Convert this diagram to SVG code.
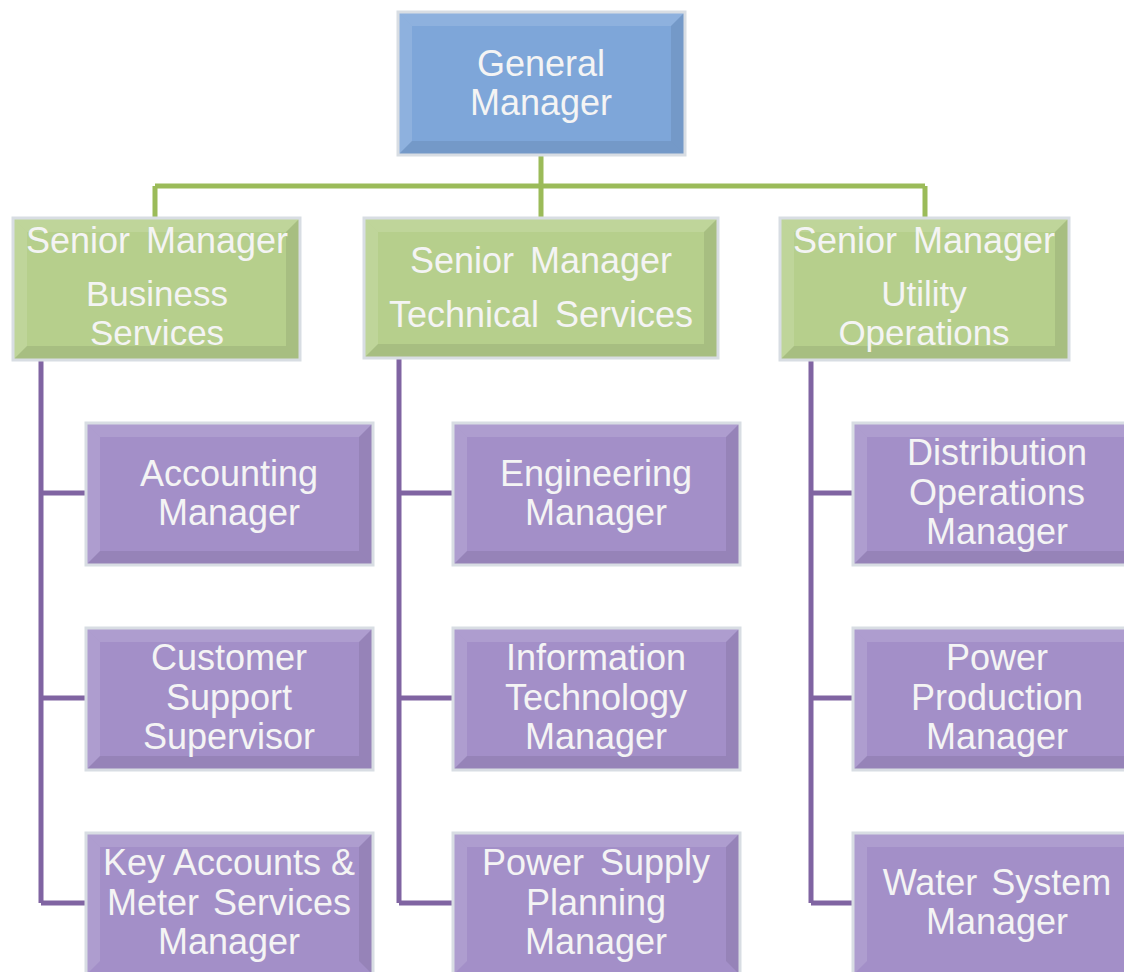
<svg xmlns="http://www.w3.org/2000/svg" width="1124" height="972" viewBox="0 0 1124 972">
<style>
.txt{font-family:"Liberation Sans",Arial,sans-serif;font-size:36px;fill:#F4F4F4;text-anchor:middle}
.tight{font-size:35px}
.blue{fill:#7EA6D9}
.green{fill:#B6CF8C}
.purple{fill:#A38FC8}
.frame{fill:none;stroke:#D8DDE3;stroke-width:3}
.hl{fill:#FFFFFF;opacity:0.13}
.sh{fill:#000000;opacity:0.08}
.gline{stroke:#9BBB59;stroke-width:5;fill:none}
.pline{stroke:#8064A2;stroke-width:5;fill:none}
</style>
<g id="connectors">
<path class="gline" d="M541 155 V218 M155 186 H925 M155 186 V218 M925 186 V218"/>
<path class="pline" d="M41 360 V903 M41 493 H86 M41 698 H86 M41 903 H86"/>
<path class="pline" d="M399 358 V903 M399 493 H453 M399 698 H453 M399 903 H453"/>
<path class="pline" d="M811 360 V903 M811 493 H853 M811 698 H853 M811 903 H853"/>
</g>

<g id="n-gm">
<rect class="blue" x="398" y="12" width="287" height="143"/>
<polygon class="hl" points="398,12 685,12 671,26 412,26"/>
<polygon class="hl" points="398,12 412,26 412,141 398,155"/>
<polygon class="sh" points="685,12 685,155 671,141 671,26"/>
<polygon class="sh" points="398,155 685,155 671,141 412,141"/>
<rect class="frame" x="398" y="12" width="287" height="143"/>
<text class="txt" x="541" y="76">General</text>
<text class="txt" x="541" y="115">Manager</text>
</g>

<g id="n-bs">
<rect class="green" x="13" y="218" width="287" height="142"/>
<polygon class="hl" points="13,218 300,218 286,232 27,232"/>
<polygon class="hl" points="13,218 27,232 27,346 13,360"/>
<polygon class="sh" points="300,218 300,360 286,346 286,232"/>
<polygon class="sh" points="13,360 300,360 286,346 27,346"/>
<rect class="frame" x="13" y="218" width="287" height="142"/>
<text class="txt" x="157" y="253" word-spacing="6">Senior Manager</text>
<text class="txt tight" x="157" y="306">Business</text>
<text class="txt tight" x="157" y="345">Services</text>
</g>

<g id="n-ts">
<rect class="green" x="364" y="218" width="354" height="140"/>
<polygon class="hl" points="364,218 718,218 704,232 378,232"/>
<polygon class="hl" points="364,218 378,232 378,344 364,358"/>
<polygon class="sh" points="718,218 718,358 704,344 704,232"/>
<polygon class="sh" points="364,358 718,358 704,344 378,344"/>
<rect class="frame" x="364" y="218" width="354" height="140"/>
<text class="txt" x="541" y="273" word-spacing="6">Senior Manager</text>
<text class="txt" x="541" y="327" word-spacing="6">Technical Services</text>
</g>

<g id="n-uo">
<rect class="green" x="780" y="218" width="289" height="142"/>
<polygon class="hl" points="780,218 1069,218 1055,232 794,232"/>
<polygon class="hl" points="780,218 794,232 794,346 780,360"/>
<polygon class="sh" points="1069,218 1069,360 1055,346 1055,232"/>
<polygon class="sh" points="780,360 1069,360 1055,346 794,346"/>
<rect class="frame" x="780" y="218" width="289" height="142"/>
<text class="txt" x="924" y="253" word-spacing="6">Senior Manager</text>
<text class="txt tight" x="924" y="306">Utility</text>
<text class="txt tight" x="924" y="345">Operations</text>
</g>

<g id="n-acc">
<rect class="purple" x="86" y="423" width="287" height="142"/>
<polygon class="hl" points="86,423 373,423 359,437 100,437"/>
<polygon class="hl" points="86,423 100,437 100,551 86,565"/>
<polygon class="sh" points="373,423 373,565 359,551 359,437"/>
<polygon class="sh" points="86,565 373,565 359,551 100,551"/>
<rect class="frame" x="86" y="423" width="287" height="142"/>
<text class="txt" x="229" y="486">Accounting</text>
<text class="txt" x="229" y="525">Manager</text>
</g>

<g id="n-css">
<rect class="purple" x="86" y="628" width="287" height="142"/>
<polygon class="hl" points="86,628 373,628 359,642 100,642"/>
<polygon class="hl" points="86,628 100,642 100,756 86,770"/>
<polygon class="sh" points="373,628 373,770 359,756 359,642"/>
<polygon class="sh" points="86,770 373,770 359,756 100,756"/>
<rect class="frame" x="86" y="628" width="287" height="142"/>
<text class="txt" x="229" y="670">Customer</text>
<text class="txt" x="229" y="710">Support</text>
<text class="txt" x="229" y="749">Supervisor</text>
</g>

<g id="n-key">
<rect class="purple" x="86" y="833" width="287" height="142"/>
<polygon class="hl" points="86,833 373,833 359,847 100,847"/>
<polygon class="hl" points="86,833 100,847 100,961 86,975"/>
<polygon class="sh" points="373,833 373,975 359,961 359,847"/>
<rect class="frame" x="86" y="833" width="287" height="142"/>
<text class="txt" x="229" y="875">Key Accounts &amp;</text>
<text class="txt" x="229" y="915" word-spacing="4">Meter Services</text>
<text class="txt" x="229" y="954">Manager</text>
</g>

<g id="n-eng">
<rect class="purple" x="453" y="423" width="287" height="142"/>
<polygon class="hl" points="453,423 740,423 726,437 467,437"/>
<polygon class="hl" points="453,423 467,437 467,551 453,565"/>
<polygon class="sh" points="740,423 740,565 726,551 726,437"/>
<polygon class="sh" points="453,565 740,565 726,551 467,551"/>
<rect class="frame" x="453" y="423" width="287" height="142"/>
<text class="txt" x="596" y="486">Engineering</text>
<text class="txt" x="596" y="525">Manager</text>
</g>

<g id="n-it">
<rect class="purple" x="453" y="628" width="287" height="142"/>
<polygon class="hl" points="453,628 740,628 726,642 467,642"/>
<polygon class="hl" points="453,628 467,642 467,756 453,770"/>
<polygon class="sh" points="740,628 740,770 726,756 726,642"/>
<polygon class="sh" points="453,770 740,770 726,756 467,756"/>
<rect class="frame" x="453" y="628" width="287" height="142"/>
<text class="txt" x="596" y="670">Information</text>
<text class="txt" x="596" y="710">Technology</text>
<text class="txt" x="596" y="749">Manager</text>
</g>

<g id="n-psp">
<rect class="purple" x="453" y="833" width="287" height="142"/>
<polygon class="hl" points="453,833 740,833 726,847 467,847"/>
<polygon class="hl" points="453,833 467,847 467,961 453,975"/>
<polygon class="sh" points="740,833 740,975 726,961 726,847"/>
<rect class="frame" x="453" y="833" width="287" height="142"/>
<text class="txt" x="596" y="875" word-spacing="6">Power Supply</text>
<text class="txt" x="596" y="915">Planning</text>
<text class="txt" x="596" y="954">Manager</text>
</g>

<g id="n-dist">
<rect class="purple" x="853" y="423" width="287" height="142"/>
<polygon class="hl" points="853,423 1140,423 1126,437 867,437"/>
<polygon class="hl" points="853,423 867,437 867,551 853,565"/>
<polygon class="sh" points="853,565 1140,565 1126,551 867,551"/>
<rect class="frame" x="853" y="423" width="287" height="142"/>
<text class="txt" x="997" y="465">Distribution</text>
<text class="txt" x="997" y="505">Operations</text>
<text class="txt" x="997" y="544">Manager</text>
</g>

<g id="n-pp">
<rect class="purple" x="853" y="628" width="287" height="142"/>
<polygon class="hl" points="853,628 1140,628 1126,642 867,642"/>
<polygon class="hl" points="853,628 867,642 867,756 853,770"/>
<polygon class="sh" points="853,770 1140,770 1126,756 867,756"/>
<rect class="frame" x="853" y="628" width="287" height="142"/>
<text class="txt" x="997" y="670">Power</text>
<text class="txt" x="997" y="710">Production</text>
<text class="txt" x="997" y="749">Manager</text>
</g>

<g id="n-ws">
<rect class="purple" x="853" y="833" width="287" height="142"/>
<polygon class="hl" points="853,833 1140,833 1126,847 867,847"/>
<polygon class="hl" points="853,833 867,847 867,961 853,975"/>
<rect class="frame" x="853" y="833" width="287" height="142"/>
<text class="txt" x="997" y="895" word-spacing="4">Water System</text>
<text class="txt" x="997" y="934">Manager</text>
</g>
</svg>
